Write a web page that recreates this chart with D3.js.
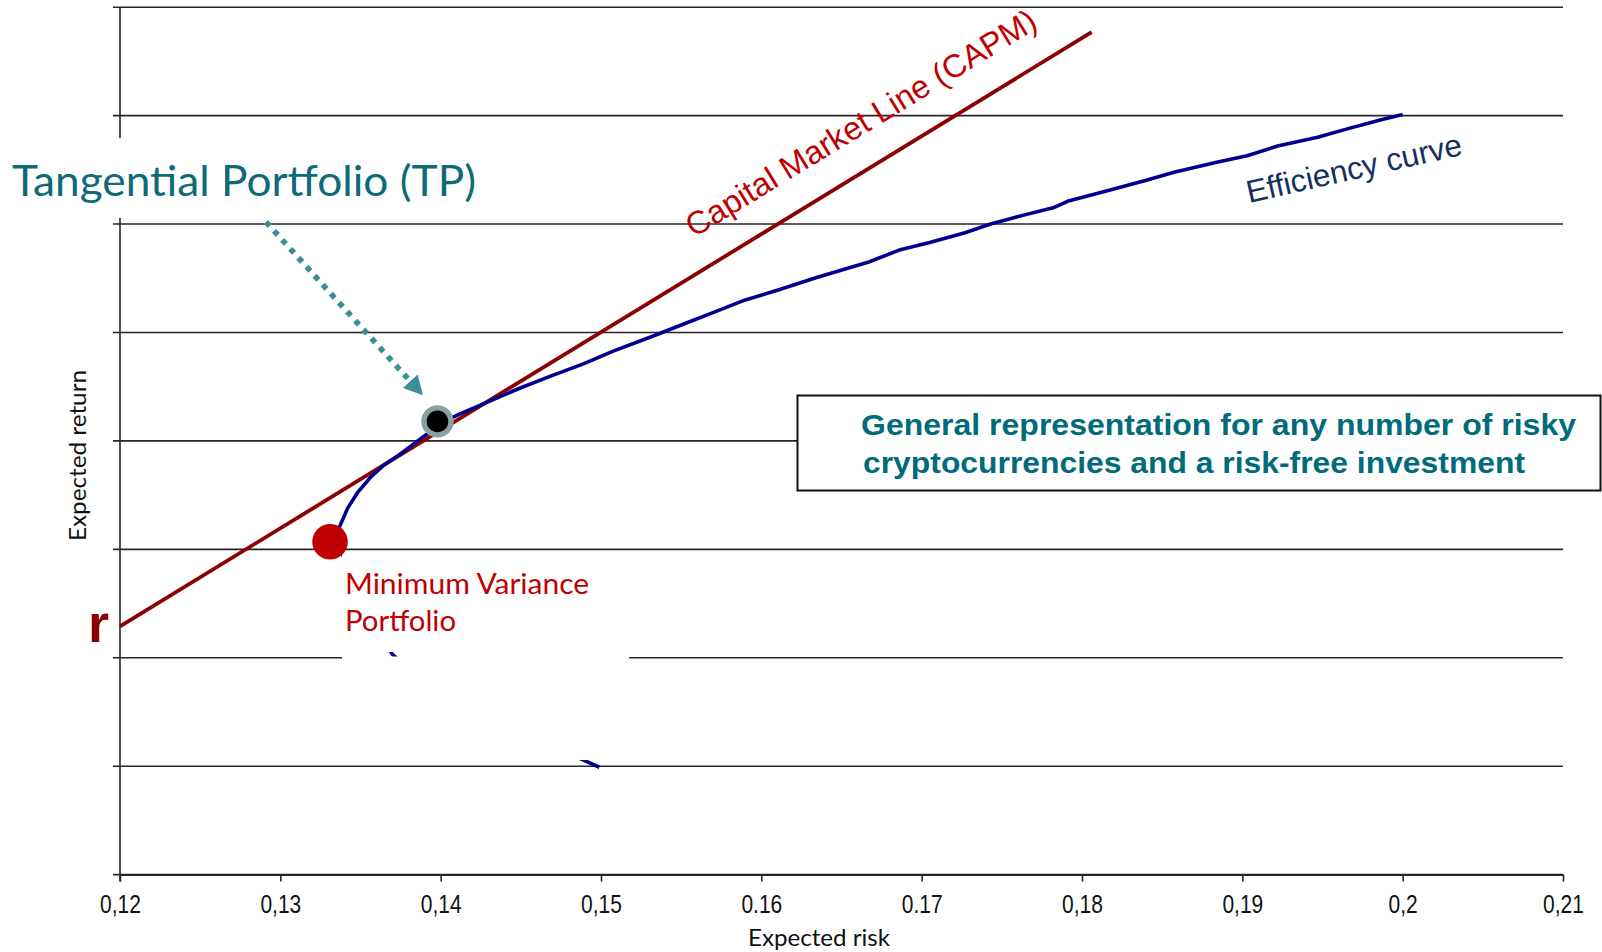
<!DOCTYPE html>
<html><head><meta charset="utf-8">
<script src="https://cdn.jsdelivr.net/npm/d3@7"></script>
<style>html,body{margin:0;padding:0;background:#fff;overflow:hidden}</style>
</head><body>
<svg id="chart" width="1602" height="952"></svg>
<script>
// ---- data ----
const xTicks = [0.12, 0.13, 0.14, 0.15, 0.16, 0.17, 0.18, 0.19, 0.20, 0.21];
const xTickLabels = ["0,12", "0,13", "0,14", "0,15", "0.16", "0.17", "0,18", "0,19", "0,2", "0,21"];
const yTicks = [0, 0.01, 0.02, 0.03, 0.04, 0.05, 0.06, 0.07, 0.08];

const cmlRisk = [0.12, 0.1806];
const cmlReturn = [0.0229, 0.0777];

const efficientRisk = [0.1331, 0.1337, 0.1342, 0.1348, 0.1356, 0.1364, 0.1374, 0.1383, 0.1393, 0.1401,
  0.1412, 0.1431, 0.1450, 0.1469, 0.1489, 0.1508, 0.1533, 0.1552, 0.1571, 0.1590,
  0.1610, 0.1635, 0.1667, 0.1686, 0.1705, 0.1727, 0.1743, 0.1763, 0.1782, 0.1791,
  0.1814, 0.1839, 0.1858, 0.1884, 0.1903, 0.1922, 0.1947, 0.1966, 0.1986, 0.2000];
const efficientReturn = [0.0307, 0.0321, 0.0338, 0.0352, 0.0366, 0.0377, 0.0387, 0.0397, 0.0408, 0.0417,
  0.0425, 0.0437, 0.0449, 0.0460, 0.0471, 0.0483, 0.0497, 0.0508, 0.0519, 0.0530,
  0.0539, 0.0551, 0.0565, 0.0576, 0.0583, 0.0592, 0.0600, 0.0608, 0.0615, 0.0621,
  0.0630, 0.0640, 0.0648, 0.0657, 0.0663, 0.0672, 0.0680, 0.0688, 0.0696, 0.0701];

const inefficientRisk = [0.1331, 0.1342, 0.1351, 0.1361, 0.1370, 0.1387, 0.1412, 0.1443, 0.1475, 0.1499];
const inefficientReturn = [0.0307, 0.0290, 0.0253, 0.0224, 0.0203, 0.0181, 0.0158, 0.0135, 0.0115, 0.0099];

const mvpPoint = [0.1331, 0.0307];
const tpPoint = [0.1398, 0.0418];
const arrowFrom = [0.1291, 0.0602];
const arrowTo = [0.1389, 0.0442];

// ---- scales ----
const x = d3.scaleLinear().domain([0.12, 0.21]).range([120, 1563]);
const y = d3.scaleLinear().domain([0, 0.08]).range([874.6, 7.2]);

const svg = d3.select("#chart");
const gridCol = "#262626";

// gridlines
svg.append("g").selectAll("line").data(yTicks).join("line")
  .attr("x1", 113).attr("x2", x(0.21))
  .attr("y1", d => y(d)).attr("y2", d => y(d))
  .attr("stroke", gridCol).attr("stroke-width", 1.6);

// y axis line
svg.append("line")
  .attr("x1", x(0.12)).attr("x2", x(0.12))
  .attr("y1", y(0.08)).attr("y2", y(0) + 7)
  .attr("stroke", gridCol).attr("stroke-width", 1.6);

// x axis
const xAxis = svg.append("g").attr("transform", `translate(0,${y(0)})`)
  .call(d3.axisBottom(x).tickValues(xTicks).tickFormat((d, i) => xTickLabels[i]).tickSize(7).tickSizeOuter(0));
xAxis.select(".domain").attr("stroke", gridCol).attr("stroke-width", 1.6);
xAxis.selectAll(".tick line").attr("stroke", gridCol).attr("stroke-width", 1.6);
xAxis.selectAll(".tick text")
  .attr("y", 38).attr("dy", 0)
  .attr("font-family", "'Liberation Sans Narrow','Liberation Sans',Arial,sans-serif")
  .attr("font-size", 25).attr("fill", "#111")
  .attr("transform", "scale(0.84,1)");

// axis titles
svg.append("text").text("Expected risk")
  .attr("x", 819).attr("y", 946).attr("text-anchor", "middle")
  .attr("font-family", "Lato, 'Open Sans', sans-serif").attr("font-size", 23)
  .attr("textLength", 142).attr("lengthAdjust", "spacingAndGlyphs").attr("fill", "#111");
svg.append("text").text("Expected return")
  .attr("transform", "translate(86,455.5) rotate(-90)").attr("text-anchor", "middle")
  .attr("font-family", "Lato, 'Open Sans', sans-serif").attr("font-size", 23)
  .attr("textLength", 171).attr("lengthAdjust", "spacingAndGlyphs").attr("fill", "#111");

// white label box behind TP title (covers axis)
svg.append("rect").attr("x", 0).attr("y", 138).attr("width", 484).attr("height", 80).attr("fill", "#fff");
svg.append("text").text("Tangential Portfolio (TP)")
  .attr("x", 12).attr("y", 196)
  .attr("font-family", "Lato, 'Open Sans', sans-serif").attr("font-size", 42)
  .attr("textLength", 464).attr("lengthAdjust", "spacingAndGlyphs").attr("fill", "#0f6a78");

const line = d3.line().x(d => x(d[0])).y(d => y(d[1]));

// inefficient lower branch (mostly hidden behind label boxes)
svg.append("path").datum(d3.zip(inefficientRisk, inefficientReturn))
  .attr("d", line).attr("fill", "none").attr("stroke", "#000090").attr("stroke-width", 3.6);

// white label boxes of MVP
svg.append("rect").attr("x", 342).attr("y", 553).attr("width", 287).attr("height", 99).attr("fill", "#fff");
svg.append("rect").attr("x", 342).attr("y", 656.5).attr("width", 287).attr("height", 103.5).attr("fill", "#fff");

// CML
svg.append("path").datum(d3.zip(cmlRisk, cmlReturn))
  .attr("d", line).attr("fill", "none").attr("stroke", "#8b0000").attr("stroke-width", 3.8);

// efficiency curve
svg.append("path").datum(d3.zip(efficientRisk, efficientReturn))
  .attr("d", line).attr("fill", "none").attr("stroke", "#000090").attr("stroke-width", 3.6)
  .attr("stroke-linejoin", "round");

// MVP dot
svg.append("circle").attr("cx", x(mvpPoint[0])).attr("cy", y(mvpPoint[1])).attr("r", 17.8).attr("fill", "#c00000");
// TP dot
svg.append("circle").attr("cx", x(tpPoint[0])).attr("cy", y(tpPoint[1])).attr("r", 16.2).attr("fill", "#8aa1a4");
svg.append("circle").attr("cx", x(tpPoint[0])).attr("cy", y(tpPoint[1])).attr("r", 10.8).attr("fill", "#000");

// dotted arrow
{
  const sx = x(arrowFrom[0]), sy = y(arrowFrom[1]);
  const tx = x(arrowTo[0]), ty = y(arrowTo[1]);
  const L = Math.hypot(tx - sx, ty - sy);
  const ux = (tx - sx) / L, uy = (ty - sy) / L;
  const hl = 19, hw = 10;
  const bx = tx - hl * ux, by = ty - hl * uy;
  svg.append("line").attr("x1", sx).attr("y1", sy).attr("x2", bx).attr("y2", by)
    .attr("stroke", "#3a8f96").attr("stroke-width", 5.6).attr("stroke-dasharray", "5.6 6.5");
  svg.append("path")
    .attr("d", `M${tx},${ty}L${bx - hw * uy},${by + hw * ux}L${bx + hw * uy},${by - hw * ux}Z`)
    .attr("fill", "#3a8f96");
}

// MVP label
svg.append("text").text("Minimum Variance")
  .attr("x", x(mvpPoint[0]) + 15).attr("y", 594)
  .attr("font-family", "Lato, 'Open Sans', sans-serif").attr("font-size", 29.5)
  .attr("textLength", 244).attr("lengthAdjust", "spacingAndGlyphs").attr("fill", "#c00000");
svg.append("text").text("Portfolio")
  .attr("x", x(mvpPoint[0]) + 15).attr("y", 631)
  .attr("font-family", "Lato, 'Open Sans', sans-serif").attr("font-size", 29.5)
  .attr("textLength", 111).attr("lengthAdjust", "spacingAndGlyphs").attr("fill", "#c00000");

// r label
svg.append("text").text("r")
  .attr("x", 88).attr("y", 642)
  .attr("font-family", "'Liberation Sans', Arial, sans-serif").attr("font-weight", "bold")
  .attr("font-size", 54).attr("fill", "#8b0000");

// CML label
svg.append("text").text("Capital Market Line (CAPM)")
  .attr("transform", "translate(694,238) rotate(-31.4)")
  .attr("font-family", "'Liberation Sans', Arial, sans-serif").attr("font-size", 32.5)
  .attr("fill", "#c00000");

// Efficiency label
svg.append("text").text("Efficiency curve")
  .attr("transform", "translate(1249,203) rotate(-12.7)")
  .attr("font-family", "'Liberation Sans', Arial, sans-serif").attr("font-size", 31.5)
  .attr("fill", "#172f5f");

// text box
svg.append("rect").attr("x", 797.5).attr("y", 395.5).attr("width", 803).attr("height", 95)
  .attr("fill", "#fff").attr("stroke", "#111").attr("stroke-width", 2);
svg.append("text").text("General representation for any number of risky")
  .attr("x", 861).attr("y", 435)
  .attr("font-family", "'Liberation Sans', Arial, sans-serif").attr("font-weight", "bold")
  .attr("font-size", 30).attr("textLength", 715).attr("lengthAdjust", "spacingAndGlyphs")
  .attr("fill", "#006b7a");
svg.append("text").text("cryptocurrencies and a risk-free investment")
  .attr("x", 863).attr("y", 472.5)
  .attr("font-family", "'Liberation Sans', Arial, sans-serif").attr("font-weight", "bold")
  .attr("font-size", 30).attr("textLength", 662).attr("lengthAdjust", "spacingAndGlyphs")
  .attr("fill", "#006b7a");
</script>
</body></html>
